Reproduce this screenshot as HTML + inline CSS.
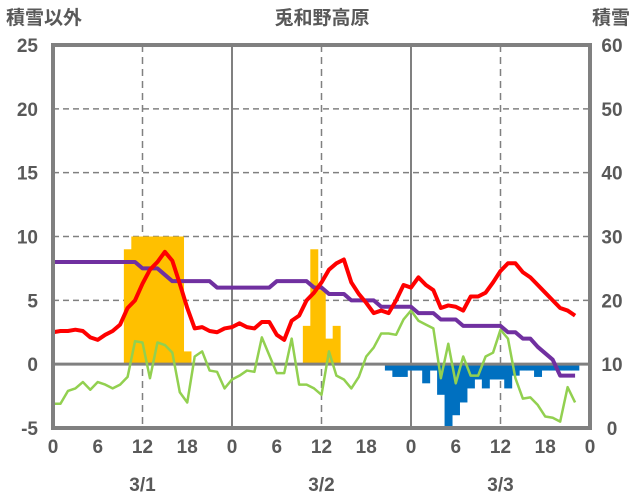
<!DOCTYPE html>
<html><head><meta charset="utf-8">
<style>
body{margin:0;background:#fff;}
svg{display:block;font-family:"Liberation Sans","Noto Sans CJK JP",sans-serif;}
.t{fill:#595959;font-size:19px;font-weight:bold;}
</style></head>
<body>
<svg id="chart" width="636" height="501">
<text class="t" x="6" y="24">積雪以外</text>
<text class="t" x="322" y="24" text-anchor="middle">兎和野高原</text>
<text class="t" x="630" y="24" text-anchor="end">積雪</text>
<g id="grid"></g>
<g id="bars"></g>
<g id="lines"></g>
<g id="frame"></g>
<g id="labels"></g>
</svg>
<script>
const hours = Array.from({length:71},(_,i)=>i);
const redValues=[2.5,2.6,2.6,2.7,2.6,2.1,1.9,2.3,2.6,3.1,4.4,5.0,6.3,7.4,8.0,8.8,8.1,6.3,4.4,2.8,2.9,2.6,2.5,2.8,2.9,3.2,2.9,2.8,3.3,3.3,2.3,1.9,3.4,3.8,5.0,5.6,6.4,7.4,7.9,8.2,6.4,5.5,4.8,4.0,4.2,4.0,5.0,6.2,6.0,6.8,6.2,5.8,4.4,4.6,4.5,4.2,5.3,5.3,5.6,6.4,7.3,7.9,7.9,7.2,6.8,6.2,5.6,5.0,4.4,4.2,3.8];
const greenValues=[-3.1,-3.1,-2.1,-1.9,-1.4,-2.0,-1.4,-1.6,-1.9,-1.6,-1.0,1.8,1.7,-1.1,1.7,1.5,0.9,-2.2,-3.0,0.6,1.0,-0.5,-0.6,-1.9,-1.2,-0.9,-0.5,-0.6,2.1,0.7,-0.7,-0.7,2.0,-1.6,-1.6,-1.9,-2.4,1.0,-0.9,-1.2,-1.9,-1.0,0.6,1.3,2.4,2.4,2.3,3.5,4.2,3.4,3.1,2.8,-1.1,1.6,-1.5,0.6,-0.9,-0.9,0.6,0.9,2.7,2.0,-1.1,-2.7,-2.6,-3.2,-4.1,-4.2,-4.5,-1.8,-3.0];
const snowDepth=[26,26,26,26,26,26,26,26,26,26,26,26,25,25,25,24,23,23,23,23,23,23,22,22,22,22,22,22,22,22,23,23,23,23,23,22,22,21,21,21,20,20,20,20,19,19,19,19,19,18,18,18,17,17,17,16,16,16,16,16,16,15,15,14,14,12.7,11.7,10.7,8.2,8.2,8.2];
const snowfallHours=[10,11,12,13,14,15,16,17,18,34,35,36,37,38];
const snowfallValues=[9,10,10,10,10,10,10,10,1,3,9,5.8,2,3];
const meltHours=[45,46,47,48,49,50,51,52,53,54,55,56,57,58,59,60,61,62,63,64,65,66,67,68,69,70];
const meltValues=[-0.5,-1.0,-1.0,-0.5,-0.5,-1.5,-0.5,-2.4,-5.0,-4.0,-3.0,-1.9,-1.2,-1.9,-1.2,-1.2,-1.9,-0.9,-0.5,-0.5,-1.0,-0.5,-0.5,-0.5,-0.5,-0.5];
const leftTicks=[25,20,15,10,5,0,-5];
const rightTicks=[60,50,40,30,20,10,0];
const xTickLabels=["0","6","12","18","0","6","12","18","0","6","12","18","0"];
const dateLabels=["3/1","3/2","3/3"];

const X0=53,X1=590,Y0=45,Y1=428;
const xs=h=>X0+h*(X1-X0)/72;
const yl=v=>Y1-(v+5)*(Y1-Y0)/30;
const yr=v=>Y1-v*(Y1-Y0)/60;
const NS="http://www.w3.org/2000/svg";
function mk(tag,attrs,parent){const e=document.createElementNS(NS,tag);for(const k in attrs)e.setAttribute(k,attrs[k]);document.getElementById(parent).appendChild(e);return e;}

leftTicks.forEach(v=>{
  if(v>-5&&v<25&&v!==0){const g=mk('line',{x1:X0,x2:X1,y1:yl(v),y2:yl(v),stroke:'#808080','stroke-width':1.5,'stroke-dasharray':'6,4'},'grid');
  
  }
  const t=mk('text',{x:38,y:yl(v)+7,'text-anchor':'end',class:'t'},'labels');t.textContent=v;
  
  
});
rightTicks.forEach(v=>{const t=mk('text',{x:612,y:yr(v)+7,'text-anchor':'middle',class:'t'},'labels');t.textContent=v;
  
  });
xTickLabels.forEach((s,i)=>{
  const h=i*6,x=xs(h);
  if(i>0&&i<12&&h%12===0){const day=h%24===0;
    const g=mk('line',{x1:x,x2:x,y1:Y0,y2:Y1,stroke:'#808080','stroke-width':day?2:1.5,'stroke-dasharray':day?'none':'7,5'},'grid');
    
    }
  const t=mk('text',{x:x,y:453,'text-anchor':'middle',class:'t'},'labels');t.textContent=s;
  
  
});
dateLabels.forEach((s,i)=>{const t=mk('text',{x:xs(12+24*i),y:491,'text-anchor':'middle',class:'t'},'labels');t.textContent=s;
  
  });
snowfallHours.forEach((h,i)=>{const v=snowfallValues[i];
  const r=mk('rect',{x:xs(h-0.5),width:xs(1)-X0+0.5,y:yl(v),height:yl(0)-yl(v),fill:'#ffc000'},'bars');
  
  });
meltHours.forEach((h,i)=>{const v=meltValues[i];
  const r=mk('rect',{x:xs(h-0.5),width:xs(1)-X0+0.5,y:yl(0),height:yl(v)-yl(0),fill:'#0070c0'},'bars');
  
  });
const zl=mk('line',{x1:X0,x2:X1,y1:yl(0),y2:yl(0),stroke:'#808080','stroke-width':3},'lines');


function series(vals,fy,color,w,name){
  const p=mk('polyline',{points:vals.map((v,i)=>xs(hours[i])+','+fy(v)).join(' '),fill:'none',stroke:color,'stroke-width':w,'stroke-linejoin':'round'},'lines');
  
  
}
series(greenValues,yl,'#92d050',2.5,'green-series-line');
series(snowDepth,yr,'#7030a0',4,'snow-depth-line');
series(redValues,yl,'#ff0000',4,'temperature-line');
const f=mk('rect',{x:X0,y:Y0,width:X1-X0,height:Y1-Y0,fill:'none',stroke:'#808080','stroke-width':4},'frame');


</script>
</body></html>
